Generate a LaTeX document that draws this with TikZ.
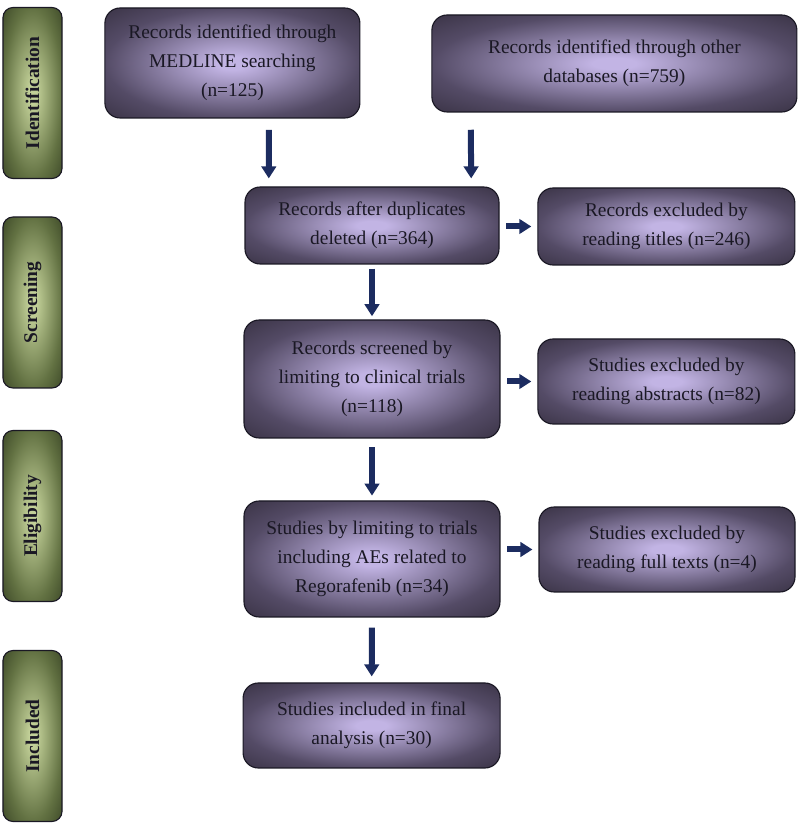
\documentclass[tikz,border=0pt]{standalone}
\usepackage{fontspec}
\setmainfont{Liberation Serif}
\usepackage{tikz}
\usetikzlibrary{calc,arrows.meta}

\definecolor{boxin}{RGB}{194,180,228}
\definecolor{boxedge}{RGB}{84,75,102}
\definecolor{boxout}{RGB}{60,53,72}
\definecolor{stagein}{RGB}{194,208,152}
\definecolor{stageedge}{RGB}{98,113,66}
\definecolor{stageout}{RGB}{64,76,42}
\definecolor{arrowblue}{RGB}{28,44,96}
\definecolor{inkgray}{RGB}{26,24,36}

\pgfdeclareradialshading{boxglow}{\pgfpoint{0bp}{0bp}}{color(0bp)=(boxin); color(3bp)=(boxin); color(25bp)=(boxedge); color(35bp)=(boxout); color(50bp)=(boxout)}
\pgfdeclareradialshading{stageglow}{\pgfpoint{0bp}{0bp}}{color(0bp)=(stagein); color(3bp)=(stagein); color(25bp)=(stageedge); color(35bp)=(stageout); color(50bp)=(stageout)}

\tikzset{
	flowbox/.style={draw=inkgray,line width=0.8pt,rounded corners=0.38cm,
		shade,shading=boxglow,text=inkgray,align=center,
		font=\fontsize{13.8}{20.6}\selectfont},
	stagebox/.style={draw=inkgray,line width=0.8pt,rounded corners=0.25cm,
		shade,shading=stageglow,
		minimum width=1.475cm,minimum height=4.275cm},
	stagetext/.style={rotate=90,text=inkgray,font=\fontsize{13.8}{16}\selectfont\bfseries},
	flowarrow/.style={draw=arrowblue,line width=0.15cm,
		-{Triangle[width=0.36cm,length=0.3cm]}}
}

\begin{document}
\begin{tikzpicture}
	\useasboundingbox (0,0) rectangle (20,20.6);
	
	%stage bars
	\node[stagebox] (ident) at (0.8125,18.275) {};
	\node[stagetext] at (ident) {Identification};
	\node[stagebox] (screen) at (0.8125,13.0375) {};
	\node[stagetext] at (screen) {Screening};
	\node[stagebox] (elig) at (0.8125,7.7) {};
	\node[stagetext] at (elig) {Eligibility};
	\node[stagebox] (incl) at (0.8125,2.2) {};
	\node[stagetext] at (incl) {Included};
	
	%boxes - main column
	\node[flowbox,minimum width=6.375cm,minimum height=2.75cm] (medline) at (5.81,19.025)
		{Records identified through\\MEDLINE searching\\(n=125)};
	\node[flowbox,minimum width=9.125cm,minimum height=2.425cm] (otherdb) at (15.36,19.0125)
		{Records identified through other\\databases (n=759)};
	\node[flowbox,minimum width=6.35cm,minimum height=1.925cm] (dupl) at (9.3,14.9625)
		{Records after duplicates\\deleted (n=364)};
	\node[flowbox,minimum width=6.4cm,minimum height=2.95cm] (screened) at (9.3,11.125)
		{Records screened by\\limiting to clinical trials\\(n=118)};
	\node[flowbox,minimum width=6.4cm,minimum height=2.9cm] (limited) at (9.3,6.625)
		{Studies by limiting to trials\\including AEs related to\\Regorafenib (n=34)};
	\node[flowbox,minimum width=6.425cm,minimum height=2.125cm] (final) at (9.29,2.4625)
		{Studies included in final\\analysis (n=30)};
	
	%boxes - exclusions
	\node[flowbox,minimum width=6.425cm,minimum height=1.925cm] (extitles) at (16.66,14.9375)
		{Records excluded by\\reading titles (n=246)};
	\node[flowbox,minimum width=6.425cm,minimum height=2.125cm] (exabstr) at (16.66,11.0625)
		{Studies excluded by\\reading abstracts (n=82)};
	\node[flowbox,minimum width=6.4cm,minimum height=2.125cm] (exfull) at (16.675,6.8625)
		{Studies excluded by\\reading full texts (n=4)};
	
	%arrows down
	\draw[flowarrow] ([xshift=0.91cm,yshift=-0.28cm]medline.south) -- ([xshift=-2.58cm,yshift=0.2cm]dupl.north);
	\draw[flowarrow] ([xshift=-3.59cm,yshift=-0.43cm]otherdb.south) -- ([xshift=2.48cm,yshift=0.2cm]dupl.north);
	\draw[flowarrow,shorten <=0.1cm,shorten >=0.08cm] (dupl) -- (screened);
	\draw[flowarrow,shorten <=0.22cm,shorten >=0.12cm] (screened) -- (limited);
	\draw[flowarrow,shorten <=0.25cm,shorten >=0.15cm] (limited) -- (final);
	
	%arrows right
	\draw[flowarrow,shorten <=0.17cm,shorten >=0.15cm] (extitles.west -| dupl.east) -- (extitles.west);
	\draw[flowarrow,shorten <=0.17cm,shorten >=0.15cm] (exabstr.west -| screened.east) -- (exabstr.west);
	\draw[flowarrow,shorten <=0.17cm,shorten >=0.15cm] (exfull.west -| limited.east) -- (exfull.west);
\end{tikzpicture}
\end{document}
